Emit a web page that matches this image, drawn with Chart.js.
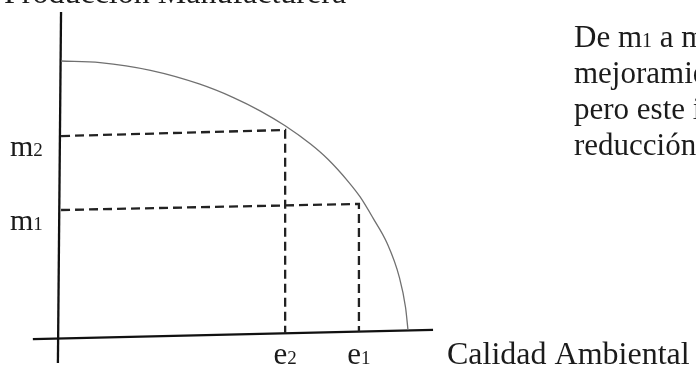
<!DOCTYPE html>
<html>
<head>
<meta charset="utf-8">
<script src="https://cdn.jsdelivr.net/npm/chart.js@4/dist/chart.umd.min.js"></script>
<style>
  html, body { margin: 0; padding: 0; background: #fff; }
  #wrap { width: 696px; height: 368px; }
</style>
</head>
<body>
<div id="wrap"><canvas id="graphCanvas" width="696" height="368"></canvas></div>
<script>
// frontera de posibilidades: calidad ambiental (x) vs produccion (y)
const frontierX = [0.03, 1.15, 2.6, 4.0, 5.0, 5.75, 6.47, 7.2, 7.7, 8.3, 8.62, 9.0, 9.4, 9.75, 9.93, 10.0]
const frontierY = [10.0, 9.94, 9.66, 9.17, 8.67, 8.2, 7.66, 7.0, 6.45, 5.62, 5.1, 4.32, 3.42, 2.2, 1.1, 0.29]

const calidadLabels = ['e2', 'e1']
const calidadValues = [6.47, 8.59]
const calidadBase = [0.17, 0.23]

const produccionLabels = ['m2', 'm1']
const produccionAxis = [7.29, 4.62]
const produccionCorner = [7.51, 4.84]

const xAxisLine = [[-0.78, -0.04], [10.72, 0.29]]
const yAxisLine = [[0.03, 11.77], [-0.06, -0.90]]

const xTitle = 'Calidad Ambiental'
const topTitle = 'Producción Manufacturera'
const noteLines = [
  ['De m', '1', ' a m', '2', ' hay un'],
  ['mejoramiento en la'],
  ['pero este implica una'],
  ['reducción de la calidad']
]

const serif = '"Liberation Serif", "DejaVu Serif", serif'
const ink = '#1b1b1b'

function pts(xs, ys) {
  return xs.map((x, i) => ({ x: x, y: ys[i] }))
}

let datasets = []
// frontera
datasets.push({
  data: pts(frontierX, frontierY),
  borderColor: '#707070',
  borderWidth: 1.3,
  cubicInterpolationMode: 'monotone'
})
// lineas punteadas
for (let i in produccionLabels) {
  datasets.push({
    data: [
      { x: 0.03, y: produccionAxis[i] },
      { x: calidadValues[i], y: produccionCorner[i] },
      { x: calidadValues[i], y: calidadBase[i] }
    ],
    borderColor: '#222',
    borderWidth: 2.3,
    borderDash: [9, 5],
    tension: 0
  })
}
// ejes
datasets.push({
  data: xAxisLine.map(p => ({ x: p[0], y: p[1] })),
  borderColor: '#111', borderWidth: 2.3, tension: 0
})
datasets.push({
  data: yAxisLine.map(p => ({ x: p[0], y: p[1] })),
  borderColor: '#111', borderWidth: 2.3, tension: 0
})
datasets.forEach(d => { d.showLine = true; d.pointRadius = 0; d.fill = false })

// dibuja texto con subindice
function subText(ctx, x, y, main, sub, size, align) {
  ctx.font = size + 'px ' + serif
  let w1 = ctx.measureText(main).width
  ctx.font = Math.round(size * 0.62) + 'px ' + serif
  let w2 = ctx.measureText(sub).width
  let start = align === 'center' ? x - (w1 + w2) / 2 : x
  ctx.font = size + 'px ' + serif
  ctx.fillText(main, start, y)
  ctx.font = Math.round(size * 0.62) + 'px ' + serif
  ctx.fillText(sub, start + w1, y)
}

const labelsPlugin = {
  id: 'labels',
  afterDraw(chart) {
    const ctx = chart.ctx
    const sx = chart.scales.x, sy = chart.scales.y
    ctx.save()
    ctx.fillStyle = ink
    ctx.textBaseline = 'alphabetic'
    ctx.textAlign = 'left'

    // titulo cortado arriba
    ctx.font = '32px ' + serif
    ctx.fillText(topTitle, 4, 3)

    const base = sy.getPixelForValue(0)
    for (let i in calidadLabels) {
      let l = calidadLabels[i]
      subText(ctx, sx.getPixelForValue(calidadValues[i]), base + 26, l[0], l.slice(1), 31, 'center')
    }
    for (let i in produccionLabels) {
      let l = produccionLabels[i]
      subText(ctx, sx.getPixelForValue(0) - 50, sy.getPixelForValue(produccionAxis[i]) + 20, l[0], l.slice(1), 30, 'left')
    }

    ctx.font = '32px ' + serif
    ctx.fillText(xTitle, 447, base + 26)

    // nota a la derecha
    let y = 47
    for (let line of noteLines) {
      let x = 574
      line.forEach((part, k) => {
        let small = line.length > 1 && k % 2 === 1
        ctx.font = (small ? 20 : 31) + 'px ' + serif
        ctx.fillText(part, x, y)
        x += ctx.measureText(part).width
      })
      y += 36
    }
    ctx.restore()
  }
}

new Chart(document.getElementById('graphCanvas'), {
  type: 'scatter',
  data: { datasets: datasets },
  options: {
    responsive: false,
    animation: false,
    layout: { padding: 0 },
    plugins: { legend: { display: false }, tooltip: { enabled: false } },
    scales: {
      x: { type: 'linear', min: -1.724, max: 18.276, display: false },
      y: { type: 'linear', min: -1.083, max: 12.202, display: false }
    }
  },
  plugins: [labelsPlugin]
})
</script>
</body>
</html>
